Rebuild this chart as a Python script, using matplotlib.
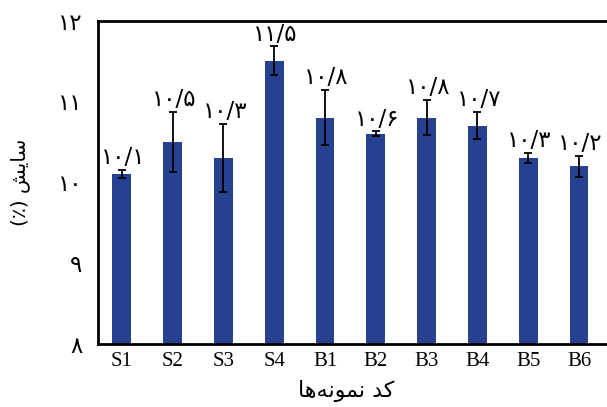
import matplotlib
matplotlib.use("Agg")
import matplotlib.pyplot as plt

# Sample codes and measured wear values (%)
categories = ["S1", "S2", "S3", "S4", "B1", "B2", "B3", "B4", "B5", "B6"]
values = [10.1, 10.5, 10.3, 11.5, 10.8, 10.6, 10.8, 10.7, 10.3, 10.2]
errors = [0.05, 0.37, 0.42, 0.18, 0.34, 0.03, 0.22, 0.17, 0.06, 0.13]
y_ticks = [8, 9, 10, 11, 12]

PERSIAN_DIGITS = str.maketrans("0123456789.", "۰۱۲۳۴۵۶۷۸۹/")


def fa(num_text):
    return num_text.translate(PERSIAN_DIGITS)


# Persian strings written in visual order with Arabic presentation forms
y_label = "(٪) \uFEB6\uFEF3\uFE8E\uFEB3"  # سایش (٪)
x_label = ("\uFE8E\uFEEB\uFEEA\uFEE7\uFEEE\uFEE4\uFEE7"
           " \uFEAA\uFB90")  # کد نمونه‌ها

fa_family = ["DejaVu Sans"]
latin_family = ["Liberation Serif", "DejaVu Serif"]

W, H = 607, 407
fig = plt.figure(figsize=(W / 100, H / 100), dpi=100)
left, right, top, bottom = 97.5, 612, 20.5, 344
ax = fig.add_axes([left / W, (H - bottom) / H, (right - left) / W, (bottom - top) / H])

x = list(range(len(categories)))
ax.bar(x, values, width=0.37, color="#26418F", zorder=2)
ax.errorbar(x, values, yerr=errors, fmt="none", ecolor="black",
            elinewidth=1.3, capsize=3, capthick=1.3, zorder=3)

for xi, v, e in zip(x, values, errors):
    ax.annotate(fa(f"{v:.1f}"), xy=(xi, v + e), xytext=(1, 0.5),
                textcoords="offset points", ha="center", va="bottom",
                fontsize=16.5, family=fa_family, color="black")

ax.set_xlim(-0.48, 9.5 + (right - 579 - 25.4) / 50.8)
ax.set_ylim(8, 12)
ax.set_xticks(x)
ax.set_xticklabels(categories, family=latin_family, fontsize=15)
ax.set_yticks(y_ticks)
ax.set_yticklabels([fa(str(t)) for t in y_ticks], family=fa_family,
                   fontsize=16.5)
ax.tick_params(axis="both", length=0)
ax.tick_params(axis="y", pad=11)
ax.tick_params(axis="x", pad=6)

for side in ("left", "top", "bottom"):
    ax.spines[side].set_linewidth(2)
ax.spines["right"].set_visible(False)

ax.set_ylabel(y_label, family=fa_family, fontsize=14.5, labelpad=20)
ax.set_xlabel(x_label, family=fa_family, fontsize=16, labelpad=6)
ax.xaxis.label.set_x((346 - left) / (right - left))

fig.savefig("out.png", dpi=100)
